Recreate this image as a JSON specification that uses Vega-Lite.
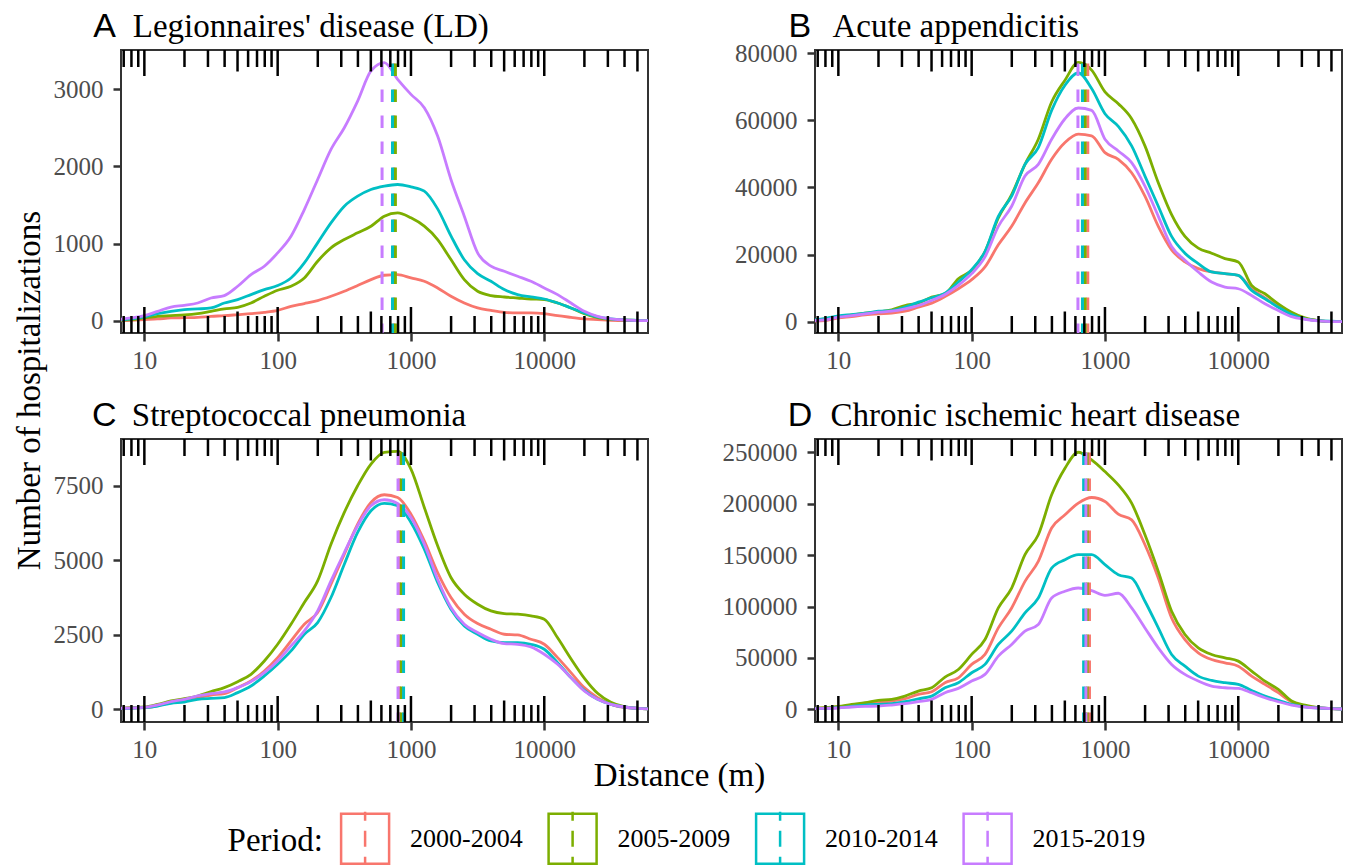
{
"$schema": "https://vega.github.io/schema/vega-lite/v6.json",
"background": "white",
"autosize": {"type": "none"},
"padding": {"left": 121, "top": 50, "right": 1230, "bottom": 815},
"bounds": "flush",
"columns": 2,
"spacing": {"row": 106, "column": 167},
"datasets": {
"curves": [
{"p":"A","x":6.31,"2000-2004":0,"2005-2009":4,"2010-2014":9,"2015-2019":13},
{"p":"A","x":7.94,"2000-2004":4,"2005-2009":13,"2010-2014":22,"2015-2019":35},
{"p":"A","x":10,"2000-2004":13,"2005-2009":35,"2010-2014":48,"2015-2019":65},
{"p":"A","x":12.59,"2000-2004":22,"2005-2009":56,"2010-2014":91,"2015-2019":121},
{"p":"A","x":15.85,"2000-2004":35,"2005-2009":65,"2010-2014":121,"2015-2019":177},
{"p":"A","x":19.95,"2000-2004":39,"2005-2009":74,"2010-2014":143,"2015-2019":199},
{"p":"A","x":25.12,"2000-2004":43,"2005-2009":91,"2010-2014":152,"2015-2019":229},
{"p":"A","x":31.62,"2000-2004":56,"2005-2009":121,"2010-2014":165,"2015-2019":294},
{"p":"A","x":39.81,"2000-2004":65,"2005-2009":152,"2010-2014":229,"2015-2019":325},
{"p":"A","x":50.12,"2000-2004":78,"2005-2009":173,"2010-2014":273,"2015-2019":446},
{"p":"A","x":63.1,"2000-2004":91,"2005-2009":229,"2010-2014":338,"2015-2019":597},
{"p":"A","x":79.43,"2000-2004":108,"2005-2009":316,"2010-2014":403,"2015-2019":706},
{"p":"A","x":100,"2000-2004":134,"2005-2009":394,"2010-2014":455,"2015-2019":879},
{"p":"A","x":125.9,"2000-2004":186,"2005-2009":446,"2010-2014":554,"2015-2019":1095},
{"p":"A","x":158.5,"2000-2004":221,"2005-2009":554,"2010-2014":749,"2015-2019":1441},
{"p":"A","x":199.5,"2000-2004":260,"2005-2009":771,"2010-2014":1009,"2015-2019":1831},
{"p":"A","x":251.2,"2000-2004":316,"2005-2009":944,"2010-2014":1268,"2015-2019":2221},
{"p":"A","x":316.2,"2000-2004":381,"2005-2009":1052,"2010-2014":1485,"2015-2019":2502},
{"p":"A","x":398.1,"2000-2004":455,"2005-2009":1139,"2010-2014":1615,"2015-2019":2848},
{"p":"A","x":501.2,"2000-2004":532,"2005-2009":1225,"2010-2014":1701,"2015-2019":3238},
{"p":"A","x":631,"2000-2004":589,"2005-2009":1355,"2010-2014":1745,"2015-2019":3346},
{"p":"A","x":794.3,"2000-2004":597,"2005-2009":1398,"2010-2014":1766,"2015-2019":3130},
{"p":"A","x":1000,"2000-2004":554,"2005-2009":1333,"2010-2014":1735,"2015-2019":2935},
{"p":"A","x":1259,"2000-2004":511,"2005-2009":1225,"2010-2014":1680,"2015-2019":2762},
{"p":"A","x":1585,"2000-2004":424,"2005-2009":1052,"2010-2014":1450,"2015-2019":2394},
{"p":"A","x":1995,"2000-2004":316,"2005-2009":792,"2010-2014":1100,"2015-2019":1831},
{"p":"A","x":2512,"2000-2004":229,"2005-2009":532,"2010-2014":790,"2015-2019":1355},
{"p":"A","x":3162,"2000-2004":165,"2005-2009":381,"2010-2014":610,"2015-2019":879},
{"p":"A","x":3981,"2000-2004":134,"2005-2009":325,"2010-2014":511,"2015-2019":706},
{"p":"A","x":5012,"2000-2004":108,"2005-2009":307,"2010-2014":403,"2015-2019":641},
{"p":"A","x":6310,"2000-2004":100,"2005-2009":294,"2010-2014":338,"2015-2019":576},
{"p":"A","x":7943,"2000-2004":100,"2005-2009":281,"2010-2014":307,"2015-2019":511},
{"p":"A","x":10000,"2000-2004":91,"2005-2009":273,"2010-2014":281,"2015-2019":424},
{"p":"A","x":12589,"2000-2004":65,"2005-2009":229,"2010-2014":229,"2015-2019":338},
{"p":"A","x":15849,"2000-2004":43,"2005-2009":165,"2010-2014":165,"2015-2019":229},
{"p":"A","x":19953,"2000-2004":22,"2005-2009":91,"2010-2014":100,"2015-2019":121},
{"p":"A","x":25119,"2000-2004":13,"2005-2009":39,"2010-2014":48,"2015-2019":56},
{"p":"A","x":31623,"2000-2004":4,"2005-2009":17,"2010-2014":22,"2015-2019":22},
{"p":"A","x":39811,"2000-2004":0,"2005-2009":9,"2010-2014":9,"2015-2019":9},
{"p":"A","x":50119,"2000-2004":0,"2005-2009":4,"2010-2014":4,"2015-2019":0},
{"p":"A","x":63096,"2000-2004":0,"2005-2009":0,"2010-2014":0,"2015-2019":0},
{"p":"B","x":6.31,"2000-2004":100,"2005-2009":300,"2010-2014":500,"2015-2019":300},
{"p":"B","x":7.94,"2000-2004":300,"2005-2009":800,"2010-2014":900,"2015-2019":500},
{"p":"B","x":10,"2000-2004":1100,"2005-2009":1500,"2010-2014":1700,"2015-2019":1300},
{"p":"B","x":12.59,"2000-2004":1500,"2005-2009":2000,"2010-2014":2100,"2015-2019":1800},
{"p":"B","x":15.85,"2000-2004":2000,"2005-2009":2500,"2010-2014":2500,"2015-2019":2300},
{"p":"B","x":19.95,"2000-2004":2300,"2005-2009":2900,"2010-2014":3100,"2015-2019":2800},
{"p":"B","x":25.12,"2000-2004":2500,"2005-2009":3500,"2010-2014":3300,"2015-2019":3100},
{"p":"B","x":31.62,"2000-2004":3100,"2005-2009":4800,"2010-2014":4300,"2015-2019":3800},
{"p":"B","x":39.81,"2000-2004":4300,"2005-2009":5500,"2010-2014":5800,"2015-2019":4800},
{"p":"B","x":50.12,"2000-2004":5500,"2005-2009":7300,"2010-2014":7100,"2015-2019":6300},
{"p":"B","x":63.1,"2000-2004":7500,"2005-2009":8300,"2010-2014":8500,"2015-2019":8100},
{"p":"B","x":79.43,"2000-2004":9800,"2005-2009":12800,"2010-2014":11800,"2015-2019":10800},
{"p":"B","x":100,"2000-2004":12500,"2005-2009":15300,"2010-2014":15500,"2015-2019":14300},
{"p":"B","x":125.9,"2000-2004":16300,"2005-2009":20900,"2010-2014":20900,"2015-2019":19300},
{"p":"B","x":158.5,"2000-2004":22900,"2005-2009":30900,"2010-2014":31400,"2015-2019":28400},
{"p":"B","x":199.5,"2000-2004":28400,"2005-2009":37900,"2010-2014":37400,"2015-2019":34400},
{"p":"B","x":251.2,"2000-2004":35400,"2005-2009":46900,"2010-2014":46900,"2015-2019":43400},
{"p":"B","x":316.2,"2000-2004":41400,"2005-2009":54400,"2010-2014":51900,"2015-2019":46900},
{"p":"B","x":398.1,"2000-2004":48400,"2005-2009":65500,"2010-2014":63000,"2015-2019":54400},
{"p":"B","x":501.2,"2000-2004":53400,"2005-2009":72000,"2010-2014":70500,"2015-2019":60500},
{"p":"B","x":631,"2000-2004":55900,"2005-2009":77300,"2010-2014":74200,"2015-2019":63700},
{"p":"B","x":794.3,"2000-2004":55400,"2005-2009":75000,"2010-2014":69500,"2015-2019":63000},
{"p":"B","x":1000,"2000-2004":50400,"2005-2009":68500,"2010-2014":62000,"2015-2019":54400},
{"p":"B","x":1259,"2000-2004":48400,"2005-2009":65000,"2010-2014":58200,"2015-2019":50900},
{"p":"B","x":1585,"2000-2004":44400,"2005-2009":60500,"2010-2014":52400,"2015-2019":47400},
{"p":"B","x":1995,"2000-2004":37400,"2005-2009":52400,"2010-2014":43400,"2015-2019":40400},
{"p":"B","x":2512,"2000-2004":28400,"2005-2009":41400,"2010-2014":34400,"2015-2019":31400},
{"p":"B","x":3162,"2000-2004":21400,"2005-2009":31900,"2010-2014":25400,"2015-2019":22400},
{"p":"B","x":3981,"2000-2004":17800,"2005-2009":25400,"2010-2014":20400,"2015-2019":18300},
{"p":"B","x":5012,"2000-2004":15800,"2005-2009":21900,"2010-2014":17300,"2015-2019":14800},
{"p":"B","x":6310,"2000-2004":14800,"2005-2009":20400,"2010-2014":14800,"2015-2019":11800},
{"p":"B","x":7943,"2000-2004":14300,"2005-2009":18800,"2010-2014":14300,"2015-2019":10300},
{"p":"B","x":10000,"2000-2004":13800,"2005-2009":17800,"2010-2014":13800,"2015-2019":9800},
{"p":"B","x":12589,"2000-2004":9800,"2005-2009":10800,"2010-2014":9300,"2015-2019":7800},
{"p":"B","x":15849,"2000-2004":7100,"2005-2009":8300,"2010-2014":6800,"2015-2019":5300},
{"p":"B","x":19953,"2000-2004":4500,"2005-2009":5300,"2010-2014":4300,"2015-2019":3300},
{"p":"B","x":25119,"2000-2004":2300,"2005-2009":2800,"2010-2014":2100,"2015-2019":1500},
{"p":"B","x":31623,"2000-2004":900,"2005-2009":1100,"2010-2014":800,"2015-2019":700},
{"p":"B","x":39811,"2000-2004":300,"2005-2009":300,"2010-2014":300,"2015-2019":200},
{"p":"B","x":50119,"2000-2004":0,"2005-2009":0,"2010-2014":100,"2015-2019":0},
{"p":"B","x":63096,"2000-2004":0,"2005-2009":0,"2010-2014":0,"2015-2019":0},
{"p":"C","x":6.31,"2000-2004":22,"2005-2009":22,"2010-2014":22,"2015-2019":34},
{"p":"C","x":7.94,"2000-2004":45,"2005-2009":56,"2010-2014":34,"2015-2019":45},
{"p":"C","x":10,"2000-2004":56,"2005-2009":78,"2010-2014":56,"2015-2019":67},
{"p":"C","x":12.59,"2000-2004":123,"2005-2009":168,"2010-2014":112,"2015-2019":146},
{"p":"C","x":15.85,"2000-2004":224,"2005-2009":280,"2010-2014":202,"2015-2019":258},
{"p":"C","x":19.95,"2000-2004":280,"2005-2009":358,"2010-2014":246,"2015-2019":336},
{"p":"C","x":25.12,"2000-2004":392,"2005-2009":448,"2010-2014":336,"2015-2019":448},
{"p":"C","x":31.62,"2000-2004":481,"2005-2009":593,"2010-2014":369,"2015-2019":526},
{"p":"C","x":39.81,"2000-2004":526,"2005-2009":728,"2010-2014":392,"2015-2019":582},
{"p":"C","x":50.12,"2000-2004":728,"2005-2009":929,"2010-2014":560,"2015-2019":728},
{"p":"C","x":63.1,"2000-2004":952,"2005-2009":1176,"2010-2014":784,"2015-2019":929},
{"p":"C","x":79.43,"2000-2004":1288,"2005-2009":1623,"2010-2014":1120,"2015-2019":1232},
{"p":"C","x":100,"2000-2004":1735,"2005-2009":2183,"2010-2014":1511,"2015-2019":1623},
{"p":"C","x":125.9,"2000-2004":2295,"2005-2009":2855,"2010-2014":1959,"2015-2019":2127},
{"p":"C","x":158.5,"2000-2004":2855,"2005-2009":3583,"2010-2014":2519,"2015-2019":2631},
{"p":"C","x":199.5,"2000-2004":3247,"2005-2009":4310,"2010-2014":2911,"2015-2019":3303},
{"p":"C","x":251.2,"2000-2004":4199,"2005-2009":5542,"2010-2014":3751,"2015-2019":4310},
{"p":"C","x":316.2,"2000-2004":5206,"2005-2009":6606,"2010-2014":4870,"2015-2019":5262},
{"p":"C","x":398.1,"2000-2004":6214,"2005-2009":7501,"2010-2014":5934,"2015-2019":6158},
{"p":"C","x":501.2,"2000-2004":6942,"2005-2009":8229,"2010-2014":6662,"2015-2019":6830},
{"p":"C","x":631,"2000-2004":7199,"2005-2009":8621,"2010-2014":6908,"2015-2019":7031},
{"p":"C","x":794.3,"2000-2004":7109,"2005-2009":8655,"2010-2014":6830,"2015-2019":6908},
{"p":"C","x":1000,"2000-2004":6550,"2005-2009":8061,"2010-2014":6270,"2015-2019":6438},
{"p":"C","x":1259,"2000-2004":5654,"2005-2009":6774,"2010-2014":5374,"2015-2019":5542},
{"p":"C","x":1585,"2000-2004":4590,"2005-2009":5486,"2010-2014":4254,"2015-2019":4366},
{"p":"C","x":1995,"2000-2004":3751,"2005-2009":4422,"2010-2014":3359,"2015-2019":3415},
{"p":"C","x":2512,"2000-2004":3191,"2005-2009":3863,"2010-2014":2799,"2015-2019":2855},
{"p":"C","x":3162,"2000-2004":2877,"2005-2009":3527,"2010-2014":2519,"2015-2019":2575},
{"p":"C","x":3981,"2000-2004":2687,"2005-2009":3303,"2010-2014":2295,"2015-2019":2351},
{"p":"C","x":5012,"2000-2004":2519,"2005-2009":3213,"2010-2014":2239,"2015-2019":2206},
{"p":"C","x":6310,"2000-2004":2497,"2005-2009":3191,"2010-2014":2239,"2015-2019":2183},
{"p":"C","x":7943,"2000-2004":2351,"2005-2009":3135,"2010-2014":2183,"2015-2019":2094},
{"p":"C","x":10000,"2000-2004":2183,"2005-2009":3023,"2010-2014":2015,"2015-2019":1847},
{"p":"C","x":12589,"2000-2004":1735,"2005-2009":2400,"2010-2014":1567,"2015-2019":1511},
{"p":"C","x":15849,"2000-2004":1232,"2005-2009":1700,"2010-2014":1064,"2015-2019":1064},
{"p":"C","x":19953,"2000-2004":728,"2005-2009":1050,"2010-2014":638,"2015-2019":616},
{"p":"C","x":25119,"2000-2004":392,"2005-2009":540,"2010-2014":336,"2015-2019":336},
{"p":"C","x":31623,"2000-2004":168,"2005-2009":240,"2010-2014":168,"2015-2019":168},
{"p":"C","x":39811,"2000-2004":67,"2005-2009":90,"2010-2014":78,"2015-2019":78},
{"p":"C","x":50119,"2000-2004":34,"2005-2009":34,"2010-2014":34,"2015-2019":34},
{"p":"C","x":63096,"2000-2004":11,"2005-2009":11,"2010-2014":11,"2015-2019":11},
{"p":"D","x":6.31,"2000-2004":970,"2005-2009":970,"2010-2014":970,"2015-2019":650},
{"p":"D","x":7.94,"2000-2004":1300,"2005-2009":1600,"2010-2014":970,"2015-2019":970},
{"p":"D","x":10,"2000-2004":2300,"2005-2009":2900,"2010-2014":1600,"2015-2019":1300},
{"p":"D","x":12.59,"2000-2004":3900,"2005-2009":4900,"2010-2014":2900,"2015-2019":2300},
{"p":"D","x":15.85,"2000-2004":4900,"2005-2009":6500,"2010-2014":4200,"2015-2019":2900},
{"p":"D","x":19.95,"2000-2004":6500,"2005-2009":8700,"2010-2014":4900,"2015-2019":3200},
{"p":"D","x":25.12,"2000-2004":8100,"2005-2009":9700,"2010-2014":5500,"2015-2019":4200},
{"p":"D","x":31.62,"2000-2004":10300,"2005-2009":12900,"2010-2014":7400,"2015-2019":5500},
{"p":"D","x":39.81,"2000-2004":14600,"2005-2009":17800,"2010-2014":10300,"2015-2019":7400},
{"p":"D","x":50.12,"2000-2004":17100,"2005-2009":21000,"2010-2014":12900,"2015-2019":9700},
{"p":"D","x":63.1,"2000-2004":25900,"2005-2009":31400,"2010-2014":21000,"2015-2019":16200},
{"p":"D","x":79.43,"2000-2004":30700,"2005-2009":38800,"2010-2014":25900,"2015-2019":20400},
{"p":"D","x":100,"2000-2004":43700,"2005-2009":53400,"2010-2014":35600,"2015-2019":27500},
{"p":"D","x":125.9,"2000-2004":53400,"2005-2009":67900,"2010-2014":43700,"2015-2019":34000},
{"p":"D","x":158.5,"2000-2004":79200,"2005-2009":98600,"2010-2014":63100,"2015-2019":51700},
{"p":"D","x":199.5,"2000-2004":98600,"2005-2009":118000,"2010-2014":76000,"2015-2019":63100},
{"p":"D","x":251.2,"2000-2004":124500,"2005-2009":150400,"2010-2014":93800,"2015-2019":76000},
{"p":"D","x":316.2,"2000-2004":143900,"2005-2009":169800,"2010-2014":108300,"2015-2019":82500},
{"p":"D","x":398.1,"2000-2004":176300,"2005-2009":208600,"2010-2014":137400,"2015-2019":108300},
{"p":"D","x":501.2,"2000-2004":189200,"2005-2009":234500,"2010-2014":145500,"2015-2019":114800},
{"p":"D","x":631,"2000-2004":200500,"2005-2009":250000,"2010-2014":150400,"2015-2019":118000},
{"p":"D","x":794.3,"2000-2004":206000,"2005-2009":242600,"2010-2014":150400,"2015-2019":115400},
{"p":"D","x":1000,"2000-2004":202100,"2005-2009":231200,"2010-2014":140700,"2015-2019":110900},
{"p":"D","x":1259,"2000-2004":189800,"2005-2009":218300,"2010-2014":131000,"2015-2019":112900},
{"p":"D","x":1585,"2000-2004":184300,"2005-2009":200500,"2010-2014":127700,"2015-2019":98600},
{"p":"D","x":1995,"2000-2004":160100,"2005-2009":169800,"2010-2014":105100,"2015-2019":79200},
{"p":"D","x":2512,"2000-2004":127700,"2005-2009":134200,"2010-2014":79200,"2015-2019":59800},
{"p":"D","x":3162,"2000-2004":88900,"2005-2009":95400,"2010-2014":53400,"2015-2019":43700},
{"p":"D","x":3981,"2000-2004":67900,"2005-2009":72800,"2010-2014":42000,"2015-2019":34000},
{"p":"D","x":5012,"2000-2004":55000,"2005-2009":59800,"2010-2014":32300,"2015-2019":27500},
{"p":"D","x":6310,"2000-2004":48500,"2005-2009":53400,"2010-2014":28100,"2015-2019":22600},
{"p":"D","x":7943,"2000-2004":45300,"2005-2009":50100,"2010-2014":25900,"2015-2019":21000},
{"p":"D","x":10000,"2000-2004":42000,"2005-2009":46900,"2010-2014":24300,"2015-2019":20400},
{"p":"D","x":12589,"2000-2004":32300,"2005-2009":37200,"2010-2014":18400,"2015-2019":16200},
{"p":"D","x":15849,"2000-2004":24300,"2005-2009":27500,"2010-2014":12900,"2015-2019":11300},
{"p":"D","x":19953,"2000-2004":16200,"2005-2009":19400,"2010-2014":8700,"2015-2019":7400},
{"p":"D","x":25119,"2000-2004":7400,"2005-2009":8100,"2010-2014":4900,"2015-2019":4200},
{"p":"D","x":31623,"2000-2004":3200,"2005-2009":4200,"2010-2014":2300,"2015-2019":2300},
{"p":"D","x":39811,"2000-2004":1600,"2005-2009":1600,"2010-2014":1300,"2015-2019":1300},
{"p":"D","x":50119,"2000-2004":650,"2005-2009":650,"2010-2014":650,"2015-2019":650},
{"p":"D","x":63096,"2000-2004":300,"2005-2009":300,"2010-2014":300,"2015-2019":300}
],
"medians": [
{"p":"A","Period":"2000-2004","x":745},{"p":"A","Period":"2005-2009","x":764},{"p":"A","Period":"2010-2014","x":727},{"p":"A","Period":"2015-2019","x":607},
{"p":"B","Period":"2000-2004","x":743},{"p":"B","Period":"2005-2009","x":710},{"p":"B","Period":"2010-2014","x":678},{"p":"B","Period":"2015-2019","x":627},
{"p":"C","Period":"2000-2004","x":820},{"p":"C","Period":"2005-2009","x":845},{"p":"C","Period":"2010-2014","x":880},{"p":"C","Period":"2015-2019","x":800},
{"p":"D","Period":"2000-2004","x":765},{"p":"D","Period":"2005-2009","x":735},{"p":"D","Period":"2010-2014","x":692},{"p":"D","Period":"2015-2019","x":720}
],
"ticks": [
{"x":7,"k":"S"},{"x":8,"k":"S"},{"x":9,"k":"S"},{"x":10,"k":"L"},
{"x":20,"k":"S"},{"x":30,"k":"S"},{"x":40,"k":"S"},{"x":50,"k":"M"},{"x":60,"k":"S"},{"x":70,"k":"S"},{"x":80,"k":"S"},{"x":90,"k":"S"},{"x":100,"k":"L"},
{"x":200,"k":"S"},{"x":300,"k":"S"},{"x":400,"k":"S"},{"x":500,"k":"M"},{"x":600,"k":"S"},{"x":700,"k":"S"},{"x":800,"k":"S"},{"x":900,"k":"S"},{"x":1000,"k":"L"},
{"x":2000,"k":"S"},{"x":3000,"k":"S"},{"x":4000,"k":"S"},{"x":5000,"k":"M"},{"x":6000,"k":"S"},{"x":7000,"k":"S"},{"x":8000,"k":"S"},{"x":9000,"k":"S"},{"x":10000,"k":"L"},
{"x":20000,"k":"S"},{"x":30000,"k":"S"},{"x":40000,"k":"S"},{"x":50000,"k":"M"}
]
},
"concat": [
{
"width": 527, "height": 283,
"layer": [
{"layer": [
{"data": {"name": "curves"}, "transform": [{"filter": "datum.p == 'A'"}, {"fold": ["2000-2004", "2005-2009", "2010-2014", "2015-2019"], "as": ["Period", "n"]}],
"mark": {"type": "line", "clip": true, "strokeWidth": 2.8, "interpolate": "monotone"},
"encoding": {"y": {"field": "n", "type": "quantitative", "scale": {"domain": [-160, 3510], "nice": false, "zero": false}, "axis": {"values": [0, 1000, 2000, 3000], "format": "d", "title": "Number of hospitalizations", "titleX": -82, "titleY": 340}}}},
{"data": {"name": "medians"}, "transform": [{"filter": "datum.p == 'A'"}],
"mark": {"type": "rule", "strokeWidth": 3, "strokeDash": [12.5, 13.5], "strokeDashOffset": 12.5},
"encoding": {}}
],
"encoding": {
"x": {"field": "x", "type": "quantitative", "scale": {"type": "log", "domain": [6.68, 60000], "nice": false}, "axis": {"values": [10, 100, 1000, 10000], "format": "d", "title": null}},
"color": {"field": "Period", "type": "nominal", "scale": {"domain": ["2000-2004", "2005-2009", "2010-2014", "2015-2019"], "range": ["#F8766D", "#7CAE00", "#00BFC4", "#C77CFF"]},
"legend": {"title": "Period:", "orient": "none", "legendX": 106.6, "legendY": 762, "direction": "horizontal", "titleOrient": "left", "titleAnchor": "middle", "titleBaseline": "middle", "titleFont": "Liberation Serif", "titleFontSize": 33, "titleFontWeight": "normal", "titleColor": "black", "titlePadding": 15, "labelFont": "Liberation Serif", "labelFontSize": 26, "labelColor": "black", "labelOffset": 18.5, "symbolType": "M-0.96,-1H0.96V1H-0.96Z M0,-1.08V-0.72 M0,-0.32V0.32 M0,0.72V1.08", "symbolSize": 2500, "symbolStrokeWidth": 2.5, "symbolFillColor": "transparent", "columnPadding": 19.5, "padding": 0}}}
},
{"data": {"name": "ticks"}, "mark": {"type": "tick", "orient": "vertical", "clip": true, "color": "black", "thickness": 2.5, "opacity": 1},
"encoding": {
"x": {"field": "x", "type": "quantitative", "scale": {"type": "log", "domain": [6.68, 60000], "nice": false}, "axis": {"orient": "top", "offset": 0, "labels": false, "ticks": false, "domain": false, "grid": false, "title": "A", "titleX": -28.3, "titleY": -13.5, "titleAlign": "left", "titleBaseline": "alphabetic", "titleFont": "Liberation Sans", "titleFontSize": 34}},
"y": {"datum": 0, "type": "quantitative", "scale": {"domain": [0, 1]}, "axis": null}, "size": {"field": "k", "type": "ordinal", "scale": {"domain": ["L", "M", "S"], "range": [52, 34, 18]}, "legend": null}}},
{"data": {"name": "ticks"}, "mark": {"type": "tick", "orient": "vertical", "clip": true, "color": "black", "thickness": 2.5, "opacity": 1},
"encoding": {
"x": {"field": "x", "type": "quantitative", "scale": {"type": "log", "domain": [6.68, 60000], "nice": false}, "axis": {"orient": "top", "offset": 0, "labels": false, "ticks": false, "domain": false, "grid": false, "title": "Legionnaires' disease (LD)", "titleX": 11.3, "titleY": -13.5, "titleAlign": "left", "titleBaseline": "alphabetic", "titleFont": "Liberation Serif", "titleFontSize": 33}},
"y": {"datum": 1, "type": "quantitative", "scale": {"domain": [0, 1]}, "axis": null}, "size": {"field": "k", "type": "ordinal", "scale": {"domain": ["L", "M", "S"], "range": [52, 34, 18]}, "legend": null}}}
],
"resolve": {"scale": {"x": "independent", "y": "independent"}}
},
{
"width": 527, "height": 283,
"layer": [
{"layer": [
{"data": {"name": "curves"}, "transform": [{"filter": "datum.p == 'B'"}, {"fold": ["2000-2004", "2005-2009", "2010-2014", "2015-2019"], "as": ["Period", "n"]}],
"mark": {"type": "line", "clip": true, "strokeWidth": 2.8, "interpolate": "monotone"},
"encoding": {"y": {"field": "n", "type": "quantitative", "scale": {"domain": [-3400, 81000], "nice": false, "zero": false}, "axis": {"values": [0, 20000, 40000, 60000, 80000], "format": "d", "title": null}}}},
{"data": {"name": "medians"}, "transform": [{"filter": "datum.p == 'B'"}],
"mark": {"type": "rule", "strokeWidth": 3, "strokeDash": [12.5, 13.5], "strokeDashOffset": 12.5},
"encoding": {}}
],
"encoding": {
"x": {"field": "x", "type": "quantitative", "scale": {"type": "log", "domain": [6.68, 60000], "nice": false}, "axis": {"values": [10, 100, 1000, 10000], "format": "d", "title": null}},
"color": {"field": "Period", "type": "nominal", "scale": {"domain": ["2000-2004", "2005-2009", "2010-2014", "2015-2019"], "range": ["#F8766D", "#7CAE00", "#00BFC4", "#C77CFF"]},
"legend": {"title": "Period:", "orient": "none", "legendX": 106.6, "legendY": 762, "direction": "horizontal", "titleOrient": "left", "titleAnchor": "middle", "titleBaseline": "middle", "titleFont": "Liberation Serif", "titleFontSize": 33, "titleFontWeight": "normal", "titleColor": "black", "titlePadding": 15, "labelFont": "Liberation Serif", "labelFontSize": 26, "labelColor": "black", "labelOffset": 18.5, "symbolType": "M-0.96,-1H0.96V1H-0.96Z M0,-1.08V-0.72 M0,-0.32V0.32 M0,0.72V1.08", "symbolSize": 2500, "symbolStrokeWidth": 2.5, "symbolFillColor": "transparent", "columnPadding": 19.5, "padding": 0}}}
},
{"data": {"name": "ticks"}, "mark": {"type": "tick", "orient": "vertical", "clip": true, "color": "black", "thickness": 2.5, "opacity": 1},
"encoding": {
"x": {"field": "x", "type": "quantitative", "scale": {"type": "log", "domain": [6.68, 60000], "nice": false}, "axis": {"orient": "top", "offset": 0, "labels": false, "ticks": false, "domain": false, "grid": false, "title": "B", "titleX": -27, "titleY": -13.5, "titleAlign": "left", "titleBaseline": "alphabetic", "titleFont": "Liberation Sans", "titleFontSize": 34}},
"y": {"datum": 0, "type": "quantitative", "scale": {"domain": [0, 1]}, "axis": null}, "size": {"field": "k", "type": "ordinal", "scale": {"domain": ["L", "M", "S"], "range": [52, 34, 18]}, "legend": null}}},
{"data": {"name": "ticks"}, "mark": {"type": "tick", "orient": "vertical", "clip": true, "color": "black", "thickness": 2.5, "opacity": 1},
"encoding": {
"x": {"field": "x", "type": "quantitative", "scale": {"type": "log", "domain": [6.68, 60000], "nice": false}, "axis": {"orient": "top", "offset": 0, "labels": false, "ticks": false, "domain": false, "grid": false, "title": "Acute appendicitis", "titleX": 17, "titleY": -13.5, "titleAlign": "left", "titleBaseline": "alphabetic", "titleFont": "Liberation Serif", "titleFontSize": 33}},
"y": {"datum": 1, "type": "quantitative", "scale": {"domain": [0, 1]}, "axis": null}, "size": {"field": "k", "type": "ordinal", "scale": {"domain": ["L", "M", "S"], "range": [52, 34, 18]}, "legend": null}}}
],
"resolve": {"scale": {"x": "independent", "y": "independent"}}
},
{
"width": 527, "height": 283,
"layer": [
{"layer": [
{"data": {"name": "curves"}, "transform": [{"filter": "datum.p == 'C'"}, {"fold": ["2000-2004", "2005-2009", "2010-2014", "2015-2019"], "as": ["Period", "n"]}],
"mark": {"type": "line", "clip": true, "strokeWidth": 2.8, "interpolate": "monotone"},
"encoding": {"y": {"field": "n", "type": "quantitative", "scale": {"domain": [-425, 9070], "nice": false, "zero": false}, "axis": {"values": [0, 2500, 5000, 7500], "format": "d", "title": null}}}},
{"data": {"name": "medians"}, "transform": [{"filter": "datum.p == 'C'"}],
"mark": {"type": "rule", "strokeWidth": 3, "strokeDash": [12.5, 13.5], "strokeDashOffset": 12.5},
"encoding": {}}
],
"encoding": {
"x": {"field": "x", "type": "quantitative", "scale": {"type": "log", "domain": [6.68, 60000], "nice": false}, "axis": {"values": [10, 100, 1000, 10000], "format": "d", "title": "Distance (m)", "titleX": 558, "titleY": 63, "titleAlign": "center", "titleBaseline": "alphabetic"}},
"color": {"field": "Period", "type": "nominal", "scale": {"domain": ["2000-2004", "2005-2009", "2010-2014", "2015-2019"], "range": ["#F8766D", "#7CAE00", "#00BFC4", "#C77CFF"]},
"legend": {"title": "Period:", "orient": "none", "legendX": 106.6, "legendY": 762, "direction": "horizontal", "titleOrient": "left", "titleAnchor": "middle", "titleBaseline": "middle", "titleFont": "Liberation Serif", "titleFontSize": 33, "titleFontWeight": "normal", "titleColor": "black", "titlePadding": 15, "labelFont": "Liberation Serif", "labelFontSize": 26, "labelColor": "black", "labelOffset": 18.5, "symbolType": "M-0.96,-1H0.96V1H-0.96Z M0,-1.08V-0.72 M0,-0.32V0.32 M0,0.72V1.08", "symbolSize": 2500, "symbolStrokeWidth": 2.5, "symbolFillColor": "transparent", "columnPadding": 19.5, "padding": 0}}}
},
{"data": {"name": "ticks"}, "mark": {"type": "tick", "orient": "vertical", "clip": true, "color": "black", "thickness": 2.5, "opacity": 1},
"encoding": {
"x": {"field": "x", "type": "quantitative", "scale": {"type": "log", "domain": [6.68, 60000], "nice": false}, "axis": {"orient": "top", "offset": 0, "labels": false, "ticks": false, "domain": false, "grid": false, "title": "C", "titleX": -29.4, "titleY": -13.5, "titleAlign": "left", "titleBaseline": "alphabetic", "titleFont": "Liberation Sans", "titleFontSize": 34}},
"y": {"datum": 0, "type": "quantitative", "scale": {"domain": [0, 1]}, "axis": null}, "size": {"field": "k", "type": "ordinal", "scale": {"domain": ["L", "M", "S"], "range": [52, 34, 18]}, "legend": null}}},
{"data": {"name": "ticks"}, "mark": {"type": "tick", "orient": "vertical", "clip": true, "color": "black", "thickness": 2.5, "opacity": 1},
"encoding": {
"x": {"field": "x", "type": "quantitative", "scale": {"type": "log", "domain": [6.68, 60000], "nice": false}, "axis": {"orient": "top", "offset": 0, "labels": false, "ticks": false, "domain": false, "grid": false, "title": "Streptococcal pneumonia", "titleX": 10.3, "titleY": -13.5, "titleAlign": "left", "titleBaseline": "alphabetic", "titleFont": "Liberation Serif", "titleFontSize": 33}},
"y": {"datum": 1, "type": "quantitative", "scale": {"domain": [0, 1]}, "axis": null}, "size": {"field": "k", "type": "ordinal", "scale": {"domain": ["L", "M", "S"], "range": [52, 34, 18]}, "legend": null}}}
],
"resolve": {"scale": {"x": "independent", "y": "independent"}}
},
{
"width": 527, "height": 283,
"layer": [
{"layer": [
{"data": {"name": "curves"}, "transform": [{"filter": "datum.p == 'D'"}, {"fold": ["2000-2004", "2005-2009", "2010-2014", "2015-2019"], "as": ["Period", "n"]}],
"mark": {"type": "line", "clip": true, "strokeWidth": 2.8, "interpolate": "monotone"},
"encoding": {"y": {"field": "n", "type": "quantitative", "scale": {"domain": [-12300, 262900], "nice": false, "zero": false}, "axis": {"values": [0, 50000, 100000, 150000, 200000, 250000], "format": "d", "title": null}}}},
{"data": {"name": "medians"}, "transform": [{"filter": "datum.p == 'D'"}],
"mark": {"type": "rule", "strokeWidth": 3, "strokeDash": [12.5, 13.5], "strokeDashOffset": 12.5},
"encoding": {}}
],
"encoding": {
"x": {"field": "x", "type": "quantitative", "scale": {"type": "log", "domain": [6.68, 60000], "nice": false}, "axis": {"values": [10, 100, 1000, 10000], "format": "d", "title": null}},
"color": {"field": "Period", "type": "nominal", "scale": {"domain": ["2000-2004", "2005-2009", "2010-2014", "2015-2019"], "range": ["#F8766D", "#7CAE00", "#00BFC4", "#C77CFF"]},
"legend": {"title": "Period:", "orient": "none", "legendX": 106.6, "legendY": 762, "direction": "horizontal", "titleOrient": "left", "titleAnchor": "middle", "titleBaseline": "middle", "titleFont": "Liberation Serif", "titleFontSize": 33, "titleFontWeight": "normal", "titleColor": "black", "titlePadding": 15, "labelFont": "Liberation Serif", "labelFontSize": 26, "labelColor": "black", "labelOffset": 18.5, "symbolType": "M-0.96,-1H0.96V1H-0.96Z M0,-1.08V-0.72 M0,-0.32V0.32 M0,0.72V1.08", "symbolSize": 2500, "symbolStrokeWidth": 2.5, "symbolFillColor": "transparent", "columnPadding": 19.5, "padding": 0}}}
},
{"data": {"name": "ticks"}, "mark": {"type": "tick", "orient": "vertical", "clip": true, "color": "black", "thickness": 2.5, "opacity": 1},
"encoding": {
"x": {"field": "x", "type": "quantitative", "scale": {"type": "log", "domain": [6.68, 60000], "nice": false}, "axis": {"orient": "top", "offset": 0, "labels": false, "ticks": false, "domain": false, "grid": false, "title": "D", "titleX": -27.7, "titleY": -13.5, "titleAlign": "left", "titleBaseline": "alphabetic", "titleFont": "Liberation Sans", "titleFontSize": 34}},
"y": {"datum": 0, "type": "quantitative", "scale": {"domain": [0, 1]}, "axis": null}, "size": {"field": "k", "type": "ordinal", "scale": {"domain": ["L", "M", "S"], "range": [52, 34, 18]}, "legend": null}}},
{"data": {"name": "ticks"}, "mark": {"type": "tick", "orient": "vertical", "clip": true, "color": "black", "thickness": 2.5, "opacity": 1},
"encoding": {
"x": {"field": "x", "type": "quantitative", "scale": {"type": "log", "domain": [6.68, 60000], "nice": false}, "axis": {"orient": "top", "offset": 0, "labels": false, "ticks": false, "domain": false, "grid": false, "title": "Chronic ischemic heart disease", "titleX": 15, "titleY": -13.5, "titleAlign": "left", "titleBaseline": "alphabetic", "titleFont": "Liberation Serif", "titleFontSize": 33}},
"y": {"datum": 1, "type": "quantitative", "scale": {"domain": [0, 1]}, "axis": null}, "size": {"field": "k", "type": "ordinal", "scale": {"domain": ["L", "M", "S"], "range": [52, 34, 18]}, "legend": null}}}
],
"resolve": {"scale": {"x": "independent", "y": "independent"}}
}
],
"config": {
"font": "Liberation Serif",
"view": {"stroke": "#333333", "strokeWidth": 2},
"axis": {"domain": false, "grid": false, "ticks": true, "tickSize": 8, "tickWidth": 2.5, "tickColor": "#333333", "labelFont": "Liberation Serif", "labelFontSize": 25, "labelColor": "#4D4D4D", "titleFont": "Liberation Serif", "titleFontSize": 33, "titleFontWeight": "normal", "titleColor": "black"},
"axisX": {"labelPadding": 7},
"axisY": {"labelPadding": 10, "titleAlign": "center", "titleBaseline": "alphabetic"}
}
}
